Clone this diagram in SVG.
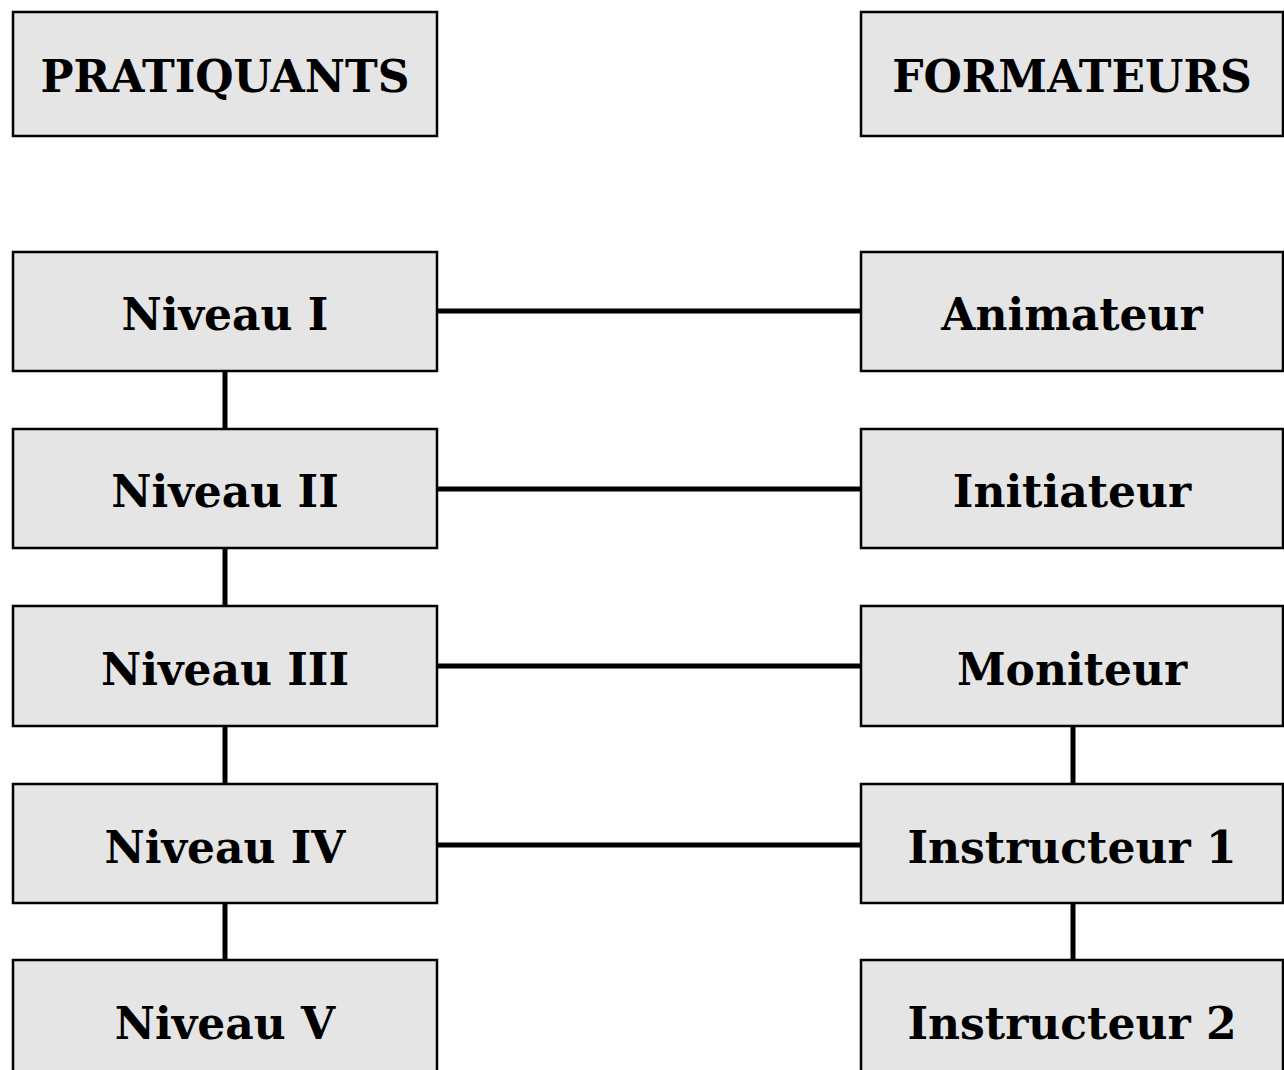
<svg xmlns="http://www.w3.org/2000/svg" width="1284" height="1070" viewBox="0 0 1284 1070">
<style>
.box{fill:#e5e5e5;stroke:#000;stroke-width:2.5}
.lbl{font-family:"DejaVu Serif",serif;font-weight:bold;font-size:44px;fill:#000;text-anchor:middle}
.conn{stroke:#000;stroke-width:5;fill:none}
</style>
<rect width="1284" height="1070" fill="#fff"/>
<g id="connectors">
<line class="conn" x1="437" y1="311" x2="861" y2="311"/>
<line class="conn" x1="437" y1="489" x2="861" y2="489"/>
<line class="conn" x1="437" y1="666" x2="861" y2="666"/>
<line class="conn" x1="437" y1="845" x2="861" y2="845"/>
<line class="conn" x1="225" y1="371" x2="225" y2="429"/>
<line class="conn" x1="225" y1="548" x2="225" y2="606"/>
<line class="conn" x1="225" y1="726" x2="225" y2="784"/>
<line class="conn" x1="225" y1="903" x2="225" y2="960"/>
<line class="conn" x1="1073" y1="726" x2="1073" y2="784"/>
<line class="conn" x1="1073" y1="903" x2="1073" y2="960"/>
</g>
<g id="pratiquants"><rect class="box" x="13" y="12" width="424" height="124"/><text class="lbl" x="225" y="92">PRATIQUANTS</text></g>
<g id="formateurs"><rect class="box" x="861" y="12" width="422" height="124"/><text class="lbl" x="1072" y="92">FORMATEURS</text></g>
<g id="niveau1"><rect class="box" x="13" y="252" width="424" height="119"/><text class="lbl" x="225" y="330">Niveau I</text></g>
<g id="niveau2"><rect class="box" x="13" y="429" width="424" height="119"/><text class="lbl" x="225" y="507">Niveau II</text></g>
<g id="niveau3"><rect class="box" x="13" y="606" width="424" height="120"/><text class="lbl" x="225" y="685">Niveau III</text></g>
<g id="niveau4"><rect class="box" x="13" y="784" width="424" height="119"/><text class="lbl" x="225" y="863">Niveau IV</text></g>
<g id="niveau5"><rect class="box" x="13" y="960" width="424" height="120"/><text class="lbl" x="225" y="1039">Niveau V</text></g>
<g id="animateur"><rect class="box" x="861" y="252" width="422" height="119"/><text class="lbl" x="1072" y="330">Animateur</text></g>
<g id="initiateur"><rect class="box" x="861" y="429" width="422" height="119"/><text class="lbl" x="1072" y="507">Initiateur</text></g>
<g id="moniteur"><rect class="box" x="861" y="606" width="422" height="120"/><text class="lbl" x="1072" y="685">Moniteur</text></g>
<g id="instructeur1"><rect class="box" x="861" y="784" width="422" height="119"/><text class="lbl" x="1072" y="863">Instructeur 1</text></g>
<g id="instructeur2"><rect class="box" x="861" y="960" width="422" height="120"/><text class="lbl" x="1072" y="1039">Instructeur 2</text></g>
</svg>
